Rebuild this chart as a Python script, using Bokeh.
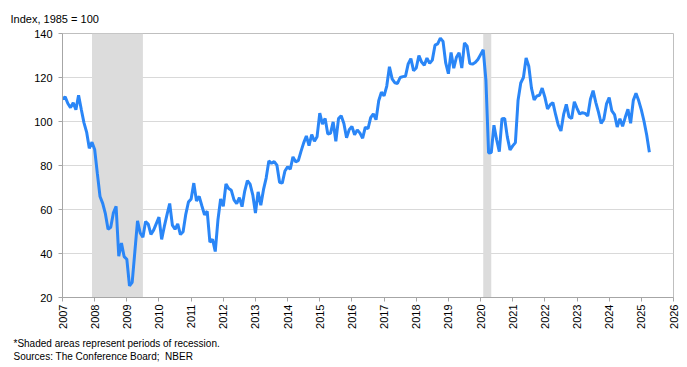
import math
from bokeh.plotting import figure
from bokeh.models import FixedTicker, Title, BoxAnnotation, ColumnDataSource
from bokeh.embed import file_html
from bokeh.resources import INLINE

# Monthly Consumer Confidence Index values (Index, 1985 = 100)
cci_2007 = [110.2, 111.2, 108.2, 106.3, 108.5, 105.3, 111.9, 105.6, 99.5, 95.2, 87.8, 90.6]
cci_2008 = [87.3, 76.4, 65.9, 62.8, 58.1, 51.0, 51.9, 58.5, 61.4, 38.8, 44.7, 38.6]
cci_2009 = [37.4, 25.3, 26.9, 40.8, 54.8, 49.3, 47.4, 54.5, 53.4, 48.7, 50.6, 53.6]
cci_2010 = [56.5, 46.4, 52.3, 57.7, 62.7, 52.9, 51.0, 53.5, 48.6, 49.9, 57.8, 63.4]
cci_2011 = [64.8, 72.0, 63.8, 66.0, 61.7, 57.6, 59.2, 45.2, 46.4, 40.9, 55.2, 64.8]
cci_2012 = [61.5, 71.6, 69.5, 68.7, 64.4, 62.7, 65.4, 61.3, 68.4, 73.1, 71.5, 66.7]
cci_2013 = [58.4, 68.0, 61.9, 69.0, 74.3, 82.1, 81.0, 81.8, 80.2, 72.4, 72.0, 77.5]
cci_2014 = [79.4, 78.3, 83.9, 81.7, 82.2, 86.4, 90.3, 93.4, 89.0, 94.1, 91.0, 93.1]
cci_2015 = [103.8, 98.8, 101.4, 94.3, 94.6, 99.8, 91.0, 101.3, 102.6, 99.1, 92.6, 96.3]
cci_2016 = [97.8, 94.0, 96.2, 94.7, 92.4, 97.4, 96.7, 101.8, 103.5, 100.8, 109.4, 113.3]
cci_2017 = [111.6, 116.1, 124.9, 119.4, 117.6, 117.3, 120.0, 120.4, 120.6, 126.2, 128.6, 123.1]
cci_2018 = [124.3, 130.0, 127.0, 125.6, 128.8, 126.4, 127.9, 134.7, 135.3, 137.9, 136.4, 126.6]
cci_2019 = [121.7, 131.4, 124.2, 129.2, 131.3, 124.3, 135.7, 134.2, 126.3, 126.1, 126.8, 128.2]
cci_2020 = [130.4, 132.6, 118.8, 85.7, 85.9, 98.3, 91.7, 86.3, 101.3, 101.4, 92.9, 87.1]
cci_2021 = [88.9, 90.4, 109.7, 117.5, 120.0, 128.9, 125.1, 115.2, 109.8, 111.6, 111.9, 115.2]
cci_2022 = [111.1, 105.7, 107.6, 108.6, 103.2, 98.4, 95.7, 103.2, 107.8, 102.2, 101.4, 109.0]
cci_2023 = [106.0, 103.4, 104.0, 103.7, 102.5, 110.1, 114.0, 108.7, 104.3, 99.1, 101.0, 108.0]
cci_2024 = [110.9, 104.8, 103.1, 97.5, 101.3, 97.8, 101.9, 105.6, 99.2, 109.6, 112.8, 109.5]
cci_2025 = [105.3, 100.1, 93.9, 86.0]

years = list(range(2007, 2026))
yearly = [cci_2007, cci_2008, cci_2009, cci_2010, cci_2011, cci_2012, cci_2013,
          cci_2014, cci_2015, cci_2016, cci_2017, cci_2018, cci_2019, cci_2020,
          cci_2021, cci_2022, cci_2023, cci_2024, cci_2025]

# Recession periods (decimal years): Dec 2007 - Jun 2009, Feb 2020 - Apr 2020
recession_starts = [2007 + 11 / 12, 2020 + 1 / 12]
recession_ends = [2009 + 6 / 12, 2020 + 4 / 12]

x_ticks = list(range(2007, 2027))
y_ticks = [20, 40, 60, 80, 100, 120, 140]

xs, ys = [], []
for yr, vals in zip(years, yearly):
    for m, v in enumerate(vals):
        xs.append(yr + m / 12)
        ys.append(v)
src = ColumnDataSource(data=dict(x=xs, y=ys))

FONT = "Liberation Sans"

p = figure(width=687, height=365, output_backend="svg", toolbar_location=None,
           x_range=(2007, 2026), y_range=(20, 140),
           min_border_left=62, min_border_right=14, min_border_top=33,
           min_border_bottom=68)

p.title.text = "Index, 1985 = 100"
p.title.align = "left"
p.title.offset = -52
p.title.text_font = FONT
p.title.text_font_size = "11px"
p.title.text_font_style = "normal"
p.title.text_color = "#000000"
p.title.standoff = 17

for s, e in zip(recession_starts, recession_ends):
    p.add_layout(BoxAnnotation(left=s, right=e, fill_color="#dcdcdc",
                               fill_alpha=1.0, line_color=None, level="underlay"))

p.line("x", "y", source=src, line_color="#2a86f7", line_width=3)

p.xaxis.ticker = FixedTicker(ticks=x_ticks)
p.yaxis.ticker = FixedTicker(ticks=y_ticks)
p.xaxis.major_label_orientation = math.pi / 2
p.xgrid.grid_line_color = None
p.ygrid.grid_line_color = "#d9d9d9"
p.ygrid.grid_line_width = 1
for ax in (p.xaxis, p.yaxis):
    ax.axis_line_color = "#a6a6a6"
    ax.major_tick_line_color = "#a6a6a6"
    ax.major_tick_in = 0
    ax.major_tick_out = 4
    ax.minor_tick_line_color = None
    ax.major_label_text_font = FONT
    ax.major_label_text_font_size = "11px"
    ax.major_label_text_color = "#000000"
    ax.major_label_standoff = 3
p.yaxis.major_label_standoff = 6
p.outline_line_color = "#bfbfbf"
p.outline_line_width = 1
p.background_fill_color = "white"
p.border_fill_color = "white"

t1 = Title(text="*Shaded areas represent periods of recession.", align="left",
           offset=-49, text_font=FONT, text_font_size="10px",
           text_font_style="normal", text_color="#000000", standoff=9)
t2 = Title(text="Sources: The Conference Board;\u00a0 NBER", align="left",
           offset=-49, text_font=FONT, text_font_size="10px",
           text_font_style="normal", text_color="#000000", standoff=-9)
p.add_layout(t1, "below")
p.add_layout(t2, "below")

open("out.html", "w").write(file_html(p, INLINE))
